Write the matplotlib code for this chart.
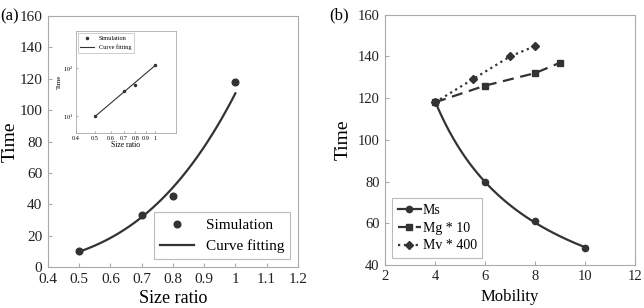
import numpy as np
import matplotlib
matplotlib.use("Agg")
import matplotlib.pyplot as plt
from matplotlib.ticker import FixedLocator, FixedFormatter, NullLocator, LogLocator, LogFormatterMathtext

plt.rcParams['font.family'] = ['Liberation Serif', 'DejaVu Serif']
plt.rcParams['mathtext.fontset'] = 'stix'

# (a) size ratio vs time
size_ratio = [0.5, 0.7, 0.8, 1.0]
sim_time = [10, 33, 45, 118]

# (b) mobility vs time
ms_x = [4, 6, 8, 10]
ms_y = [118, 80, 61, 48]
mg_x = [4, 6, 8, 9]
mg_y = [118, 126, 132, 137]
mv_x = [4, 5.5, 7, 8]
mv_y = [118, 129, 140, 145]

dark = '#333333'
spine_c = '#aaaaaa'


def style_axes(ax, size=11):
    for s in ax.spines.values():
        s.set_color(spine_c)
        s.set_linewidth(0.8)
    ax.tick_params(direction='in', color=spine_c, labelsize=size, length=3,
                   labelcolor='#222222', pad=4)


# power-law fit from the simulation points
b, loga = np.polyfit(np.log(size_ratio), np.log(sim_time), 1)
fit_x = np.linspace(0.5, 1.0, 100)
fit_y = np.exp(loga) * fit_x ** b

fig = plt.figure(figsize=(6.44, 3.08), dpi=100)

ax1 = fig.add_axes([0.0745, 0.133, 0.388, 0.815])
ax1.plot(size_ratio, sim_time, 'o', color=dark, ms=4.8, label='Simulation')
ax1.plot(fit_x, fit_y, '-', color=dark, lw=1.6, label='Curve fitting')
ax1.set_xlim(0.4, 1.2)
ax1.set_ylim(0, 160)
ax1.set_xticks([0.4, 0.5, 0.6, 0.7, 0.8, 0.9, 1.0, 1.1, 1.2])
ax1.set_xticklabels(['0.4', '0.5', '0.6', '0.7', '0.8', '0.9', '1', '1.1', '1.2'])
ax1.set_yticks(range(0, 161, 20))
style_axes(ax1, 11)
ax1.set_xlabel('Size ratio', fontsize=13, labelpad=3)
ax1.set_ylabel('Time', fontsize=14)
ax1.yaxis.set_label_coords(-0.118, 0.5)
leg1 = ax1.legend(loc='lower right', fontsize=11, fancybox=False, edgecolor=spine_c,
                  handlelength=2.2, borderaxespad=0.5)
leg1.get_frame().set_linewidth(0.8)
fig.text(0.0, 0.948, '(a)', fontsize=12, va='center', ha='left')

# inset, log-log
ins = fig.add_axes([0.118, 0.568, 0.155, 0.331])
ins.plot(size_ratio, sim_time, '.', color=dark, ms=3, label='Simulation')
ins.plot(fit_x, fit_y, '-', color=dark, lw=0.8, label='Curve fitting')
ins.set_xscale('log')
ins.set_yscale('log')
ins.set_xlim(0.4, 1.28)
ins.set_ylim(4.4, 590)
ins_ticks = [0.4, 0.5, 0.6, 0.7, 0.8, 0.9, 1.0]
ins.xaxis.set_major_locator(FixedLocator(ins_ticks))
ins.xaxis.set_major_formatter(FixedFormatter(['0.4', '0.5', '0.6', '0.7', '0.8', '0.9', '1']))
ins.xaxis.set_minor_locator(NullLocator())
ins.yaxis.set_major_locator(LogLocator(base=10))
ins.yaxis.set_major_formatter(LogFormatterMathtext())
ins.yaxis.set_minor_locator(NullLocator())
for s in ins.spines.values():
    s.set_color(spine_c)
    s.set_linewidth(0.6)
ins.tick_params(direction='in', color=spine_c, labelsize=4.5, length=1.5, pad=2)
ins.set_xlabel('Size ratio', fontsize=5.5, labelpad=0)
ins.set_ylabel('Time', fontsize=5, labelpad=1)
leg_in = ins.legend(loc='upper left', fontsize=4.5, fancybox=False, edgecolor=spine_c,
                    handlelength=2.2, borderaxespad=0.3, labelspacing=0.6)
leg_in.get_frame().set_linewidth(0.5)

# (b)
ms_b, ms_loga = np.polyfit(np.log(ms_x), np.log(ms_y), 1)
ms_cx = np.linspace(ms_x[0], ms_x[-1], 100)
ms_cy = np.exp(ms_loga) * ms_cx ** ms_b

ax2 = fig.add_axes([0.598, 0.14, 0.388, 0.812])
ax2.plot(ms_cx, ms_cy, '-', color=dark, lw=1.6)
ax2.plot(ms_x, ms_y, 'o', color=dark, ms=4.5)
ax2.plot([], [], '-o', color=dark, lw=1.6, ms=4.5, label='Ms')
ax2.plot(mg_x, mg_y, '--s', color=dark, lw=1.6, ms=4.5, dashes=(5, 3), label='Mg * 10')
ax2.plot(mv_x, mv_y, ':D', color=dark, lw=1.6, ms=4, label='Mv * 400')
ax2.set_xlim(2, 12)
ax2.set_ylim(40, 160)
ax2.set_xticks(range(2, 13, 2))
ax2.set_yticks(range(40, 161, 20))
style_axes(ax2, 10.5)
ax2.set_xlabel('Mobility', fontsize=12, labelpad=4)
ax2.set_ylabel('Time', fontsize=14, labelpad=4)
leg2 = ax2.legend(loc='lower left', fontsize=10, fancybox=False, edgecolor=spine_c,
                  handlelength=1.7, handletextpad=0.1, borderaxespad=0.5, labelspacing=0.35)
leg2.get_frame().set_linewidth(0.8)
fig.text(0.511, 0.951, '(b)', fontsize=12, va='center', ha='left')

fig.savefig('out.png', dpi=100)
